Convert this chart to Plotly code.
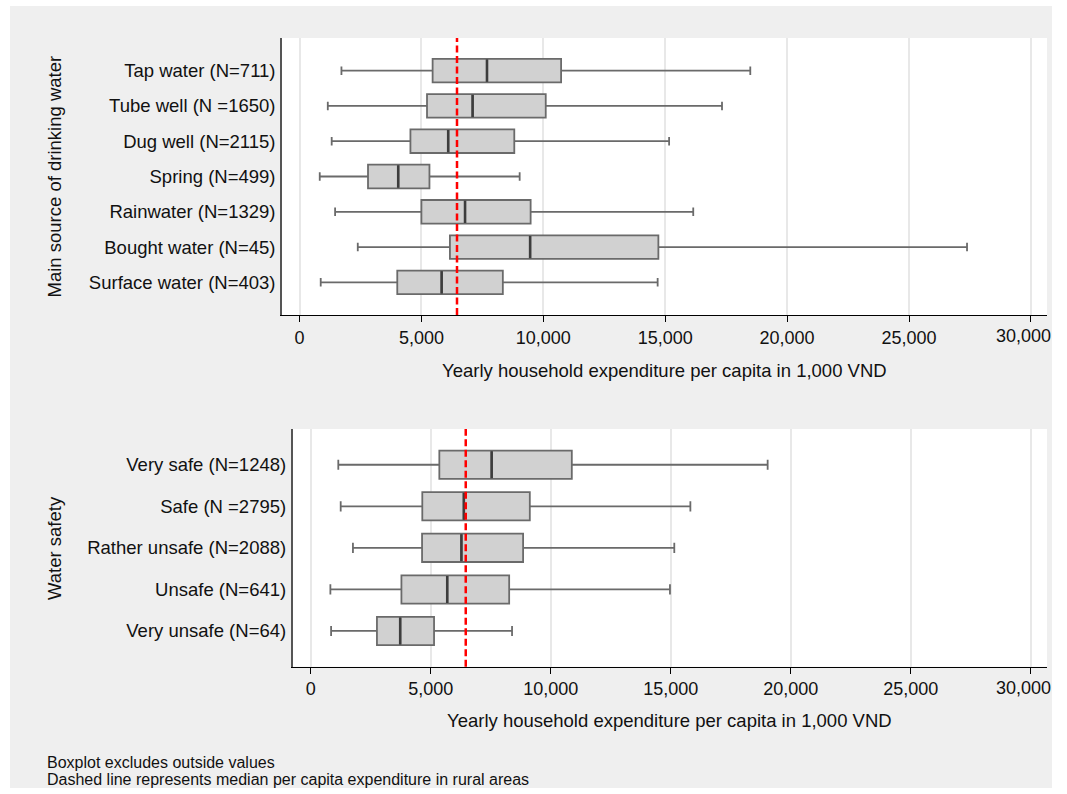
import plotly.graph_objects as go

# ---- Main source of drinking water (box statistics, 1,000 VND) ----
source_labels = [
    "Tap water (N=711)",
    "Tube well (N =1650)",
    "Dug well (N=2115)",
    "Spring (N=499)",
    "Rainwater (N=1329)",
    "Bought water (N=45)",
    "Surface water (N=403)",
]
source_low = [1720, 1160, 1320, 830, 1460, 2390, 870]
source_q1 = [5460, 5230, 4550, 2810, 5000, 6170, 4010]
source_median = [7690, 7100, 6100, 4050, 6790, 9460, 5830]
source_q3 = [10730, 10100, 8810, 5330, 9480, 14720, 8340]
source_high = [18490, 17330, 15160, 9030, 16150, 27380, 14690]

# ---- Water safety (box statistics, 1,000 VND) ----
safety_labels = [
    "Very safe (N=1248)",
    "Safe (N =2795)",
    "Rather unsafe (N=2088)",
    "Unsafe (N=641)",
    "Very unsafe (N=64)",
]
safety_low = [1150, 1250, 1760, 820, 850]
safety_q1 = [5360, 4650, 4640, 3780, 2760]
safety_median = [7540, 6380, 6280, 5690, 3730]
safety_q3 = [10880, 9130, 8850, 8270, 5140]
safety_high = [19040, 15820, 15150, 14970, 8390]

rural_median = 6460
x_tickvals = [0, 5000, 10000, 15000, 20000, 25000, 30000]
x_ticktext = ["0", "5,000", "10,000", "15,000", "20,000", "25,000", "30,000"]

x_title = "Yearly household expenditure per capita in 1,000 VND"
notes = [
    "Boxplot excludes outside values",
    "Dashed line represents median per capita expenditure in rural areas",
]

# canvas size in px (leaves room for the page's scrollbar on the right)
W, H = 1052, 788
FONT = "Liberation Sans, Arial, sans-serif"
BG = "#efefef"
BOX_FILL = "#d1d1d1"
BOX_LINE = "#6a6a6a"
MED_LINE = "#3d3d3d"


def px_x(p):
    return p / W


def px_y(p):
    return 1 - p / H


fig = go.Figure()


def add_panel(labels, low, q1, med, q3, high, xa, ya, box_w, med_size):
    fig.add_trace(go.Box(
        orientation="h",
        y=labels,
        q1=q1, median=med, q3=q3,
        lowerfence=low, upperfence=high,
        boxpoints=False,
        width=box_w,
        whiskerwidth=0.36,
        fillcolor=BOX_FILL,
        line=dict(color=BOX_LINE, width=1.8),
        xaxis=xa, yaxis=ya,
        showlegend=False,
        hoverinfo="skip",
    ))
    # heavier median bar on top of each box
    fig.add_trace(go.Scatter(
        x=med, y=labels, mode="markers",
        marker=dict(symbol="line-ns", size=med_size,
                    line=dict(width=2.6, color=MED_LINE)),
        xaxis=xa, yaxis=ya, showlegend=False, hoverinfo="skip",
    ))


add_panel(source_labels, source_low, source_q1, source_median, source_q3,
          source_high, "x", "y", 0.668, 16.0)
add_panel(safety_labels, safety_low, safety_q1, safety_median, safety_q3,
          safety_high, "x2", "y2", 0.68, 19.3)

TICK_FONT = dict(family=FONT, size=18, color="#111111")

# the last tick label sits at the canvas edge; it is written separately below
xaxis_common = dict(
    tickvals=x_tickvals,
    ticktext=x_ticktext[:-1] + [""],
    showgrid=True, gridcolor="#e8e8e8", gridwidth=1.5,
    zeroline=False,
    showline=True, linecolor="#000000", linewidth=1.2,
    ticks="outside", ticklen=6, tickwidth=1.2, tickcolor="#000000",
    tickfont=TICK_FONT,
    fixedrange=True,
)
yaxis_common = dict(
    type="category",
    showgrid=False, zeroline=False,
    showline=True, linecolor="#555555", linewidth=1.6,
    ticks="outside", ticklen=1, tickcolor="rgba(0,0,0,0)",
    tickfont=dict(family=FONT, size=18.5, color="#111111"),
    fixedrange=True,
)

fig.update_layout(
    width=W, height=H, autosize=False,
    margin=dict(l=0, r=0, t=0, b=0),
    paper_bgcolor=BG,
    plot_bgcolor="#ffffff",
    xaxis=dict(domain=[px_x(282), px_x(1047)], range=[-718, 30660],
               anchor="y", **xaxis_common),
    yaxis=dict(domain=[px_y(315), px_y(38)], range=[6.925, -0.925],
               anchor="x", categoryarray=source_labels, **yaxis_common),
    xaxis2=dict(domain=[px_x(292.7), px_x(1047)], range=[-750, 30680],
                anchor="y2", **xaxis_common),
    yaxis2=dict(domain=[px_y(666.7), px_y(429)], range=[4.86, -0.86],
                anchor="x2", categoryarray=safety_labels, **yaxis_common),
)

shapes = []
# rural median reference line in each panel
for xr, yr in (("x", "y domain"), ("x2", "y2 domain")):
    shapes.append(dict(
        type="line", xref=xr, yref=yr,
        x0=rural_median, x1=rural_median, y0=0, y1=1,
        line=dict(color="#ff0000", width=2.5, dash="7px,3.5px"),
        layer="above",
    ))
# thin white frame around the grey canvas (left and top)
for x0, x1, y0, y1 in ((0, 10, 0, H), (0, W, 0, 6)):
    shapes.append(dict(
        type="rect", xref="paper", yref="paper",
        x0=px_x(x0), x1=px_x(x1), y0=px_y(y1), y1=px_y(y0),
        fillcolor="#ffffff", line=dict(width=0), layer="below",
    ))
fig.update_layout(shapes=shapes)

annotations = [
    dict(text=x_title, xref="paper", yref="paper",
         x=px_x((282 + 1047) / 2), y=px_y(370), xanchor="center", yanchor="middle",
         showarrow=False, font=dict(family=FONT, size=18.5, color="#111111")),
    dict(text=x_title, xref="paper", yref="paper",
         x=px_x((292.7 + 1047) / 2), y=px_y(720), xanchor="center", yanchor="middle",
         showarrow=False, font=dict(family=FONT, size=18.5, color="#111111")),
    dict(text="Main source of drinking water", xref="paper", yref="paper",
         x=px_x(54), y=px_y(176.5), xanchor="center", yanchor="middle", textangle=-90,
         showarrow=False, font=dict(family=FONT, size=18.5, color="#111111")),
    dict(text="Water safety", xref="paper", yref="paper",
         x=px_x(54), y=px_y(548), xanchor="center", yanchor="middle", textangle=-90,
         showarrow=False, font=dict(family=FONT, size=18.5, color="#111111")),
]
# last x tick label of each panel, right-aligned to the canvas edge
for ya in ("y", "y2"):
    annotations.append(dict(
        text=x_ticktext[-1], xref="paper", yref=f"{ya} domain",
        x=1, y=0, xanchor="right", yanchor="middle", yshift=-21,
        showarrow=False, borderpad=0, font=TICK_FONT,
    ))
for i, note in enumerate(notes):
    annotations.append(dict(
        text=note, xref="paper", yref="paper",
        x=px_x(45), y=px_y(762 + 17 * i), xanchor="left", yanchor="middle",
        showarrow=False, font=dict(family=FONT, size=16, color="#111111"),
    ))
fig.update_layout(annotations=annotations)

fig.write_html("out.html", config={"responsive": False, "displayModeBar": False})
